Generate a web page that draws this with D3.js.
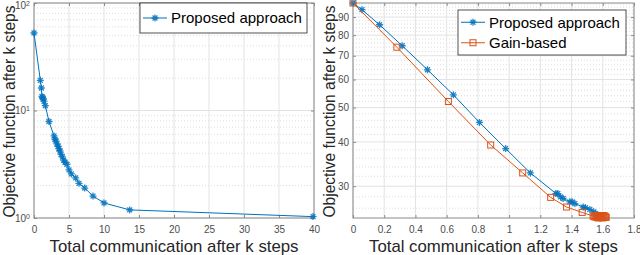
<!DOCTYPE html>
<html>
<head>
<meta charset="utf-8">
<script src="https://cdn.jsdelivr.net/npm/d3@7"></script>
<style>
  body { margin: 0; background: #fff; }
  svg { display: block; font-family: "Liberation Sans", Arial, sans-serif; }
</style>
</head>
<body>
<div id="chart"></div>
<script>
// left panel: proposed approach only
const leftX = [0, 0.9, 1.05, 1.14, 1.24, 1.33, 1.43, 1.62, 2.14, 2.86, 3.0, 3.14, 3.29, 3.43, 3.57, 3.71, 3.86, 4.05, 4.24, 4.43, 4.71, 5.0, 5.33, 5.95, 6.43, 7.24, 8.43, 10.0, 13.67, 39.86];
const leftY = [52.6, 19.1, 16.2, 13.5, 13.2, 12.8, 12.2, 11.1, 7.9, 5.8, 5.4, 5.2, 4.9, 4.65, 4.4, 4.2, 3.9, 3.7, 3.45, 3.3, 3.15, 2.8, 2.57, 2.36, 2.1, 1.9, 1.6, 1.38, 1.19, 1.03];
const leftXTicks = [0, 5, 10, 15, 20, 25, 30, 35, 40];
const leftYTicks = [1, 10, 100];

// right panel: proposed vs gain-based
const propX = [0, 0.0575, 0.170, 0.315, 0.477, 0.643, 0.81, 0.978, 1.136, 1.30, 1.312, 1.329, 1.346, 1.389, 1.404, 1.421, 1.474, 1.489, 1.517, 1.542, 1.555, 1.570, 1.581, 1.592];
const propY = [98.6, 94.4, 85.6, 74.7, 63.9, 54.3, 45.4, 38.3, 32.7, 28.6, 28.6, 28.0, 27.7, 27.1, 27.1, 26.8, 26.2, 26.1, 25.8, 25.4, 25.1, 24.8, 24.7, 24.6];
const gainX = [0, 0.281, 0.611, 0.882, 1.087, 1.266, 1.368, 1.468, 1.538, 1.545, 1.552, 1.558, 1.566, 1.571, 1.577, 1.583, 1.588, 1.594, 1.599, 1.603, 1.608, 1.613, 1.618, 1.622];
const gainY = [98.6, 74.0, 52.0, 39.2, 32.7, 27.9, 26.2, 25.3, 24.7, 24.6, 24.8, 24.5, 24.7, 24.4, 24.6, 24.8, 24.5, 24.7, 24.4, 24.6, 24.8, 24.5, 24.6, 24.5];
const rightXTicks = [0, 0.2, 0.4, 0.6, 0.8, 1, 1.2, 1.4, 1.6, 1.8];
const rightYTicks = [30, 40, 50, 60, 70, 80, 90];

const W = 640, H = 255;
const BLUE = "#0072BD", ORANGE = "#D95319";
const AXIS = "#8a8a8a", TXT = "#4d4d4d";

const svg = d3.select("#chart").append("svg").attr("width", W).attr("height", H);

function panel(opts) {
  const g = svg.append("g");
  const x = d3.scaleLinear().domain(opts.xDomain).range([opts.x0, opts.x1]);
  const y = d3.scaleLog().domain(opts.yDomain).range([opts.y1, opts.y0]);

  // minor grid (dotted)
  g.selectAll(".minor").data(opts.yMinor).join("line")
    .attr("x1", opts.x0).attr("x2", opts.x1)
    .attr("y1", d => y(d)).attr("y2", d => y(d))
    .style("stroke", "#d4d4d4").style("stroke-width", 0.8).style("stroke-dasharray", "1,2");

  // major grid
  g.selectAll(".vgrid").data(opts.xTicks).join("line")
    .attr("x1", d => x(d)).attr("x2", d => x(d))
    .attr("y1", opts.y0).attr("y2", opts.y1)
    .style("stroke", "#e3e3e3").style("stroke-width", 1);
  g.selectAll(".hgrid").data(opts.yTicks).join("line")
    .attr("x1", opts.x0).attr("x2", opts.x1)
    .attr("y1", d => y(d)).attr("y2", d => y(d))
    .style("stroke", "#e3e3e3").style("stroke-width", 1);

  // axes, ticks inward on all four sides
  const bottom = g.append("g").attr("transform", `translate(0,${opts.y1})`)
    .call(d3.axisBottom(x).tickValues(opts.xTicks).tickSize(-3).tickPadding(8).tickFormat(d3.format("")));
  const top = g.append("g").attr("transform", `translate(0,${opts.y0})`)
    .call(d3.axisTop(x).tickValues(opts.xTicks).tickSize(-3).tickFormat(""));
  const left = g.append("g").attr("transform", `translate(${opts.x0},0)`)
    .call(d3.axisLeft(y).tickValues(opts.yTicks).tickSize(-3).tickPadding(4).tickFormat(opts.yFormat));
  const right = g.append("g").attr("transform", `translate(${opts.x1},0)`)
    .call(d3.axisRight(y).tickValues(opts.yTicks).tickSize(-3).tickFormat(""));
  [bottom, top, left, right].forEach(a => {
    a.select(".domain").remove();
    a.selectAll("line").style("stroke", AXIS);
    a.selectAll("text").style("fill", TXT).style("font-size", "10px")
      .style("font-family", "'Liberation Sans', Arial, sans-serif");
  });
  if (opts.sup) {
    left.selectAll("text").text("").each(function (d) {
      const t = d3.select(this);
      t.append("tspan").text("10");
      t.append("tspan").attr("dy", "-0.4em").style("font-size", "7px").text(Math.round(Math.log10(d)));
    });
    left.selectAll(".tick").filter(d => d === 100).select("text").attr("dy", "0.55em");
  }

  g.append("rect")
    .attr("x", opts.x0).attr("y", opts.y0)
    .attr("width", opts.x1 - opts.x0).attr("height", opts.y1 - opts.y0)
    .style("fill", "none").style("stroke", AXIS).style("stroke-width", 1);

  // axis titles
  g.append("text")
    .attr("x", (opts.x0 + opts.x1) / 2).attr("y", 252)
    .attr("text-anchor", "middle")
    .attr("textLength", 249).attr("lengthAdjust", "spacingAndGlyphs")
    .style("font-size", "17px").style("fill", "#262626")
    .text("Total communication after k steps");
  g.append("text")
    .attr("transform", `translate(${opts.titleX},${(opts.y0 + opts.y1) / 2 + 1}) rotate(-90)`)
    .attr("text-anchor", "middle")
    .attr("textLength", 212).attr("lengthAdjust", "spacingAndGlyphs")
    .style("font-size", "16px").style("fill", "#262626")
    .text("Objective function after k steps");

  return { g, x, y };
}

function drawSeries(p, xs, ys, color, marker) {
  const pts = xs.map((d, i) => [d, ys[i]]);
  const line = d3.line().x(d => p.x(d[0])).y(d => p.y(d[1]));
  p.g.append("path").datum(pts).attr("d", line)
    .style("fill", "none").style("stroke", color).style("stroke-width", 1);
  const m = p.g.append("g");
  pts.forEach(d => {
    const cx = p.x(d[0]), cy = p.y(d[1]);
    if (marker === "star") drawStar(m, cx, cy, color);
    else drawSquare(m, cx, cy, color);
  });
}

function drawStar(g, cx, cy, color) {
  const r = 3.5, q = r * 0.7;
  g.append("path")
    .attr("d", `M${cx - r},${cy}L${cx + r},${cy}M${cx},${cy - r}L${cx},${cy + r}` +
      `M${cx - q},${cy - q}L${cx + q},${cy + q}M${cx - q},${cy + q}L${cx + q},${cy - q}`)
    .style("stroke", color).style("stroke-width", 1.3).style("stroke-opacity", 0.85).style("fill", "none");
}

function drawSquare(g, cx, cy, color) {
  const s = 6;
  g.append("rect").attr("x", cx - s / 2).attr("y", cy - s / 2)
    .attr("width", s).attr("height", s)
    .style("fill", "none").style("stroke", color).style("stroke-width", 1);
}

function legend(g, x0, y0, w, pad, rowH, items) {
  g.append("rect").attr("x", x0).attr("y", y0)
    .attr("width", w).attr("height", items.length * rowH + pad * 2)
    .style("fill", "#fff").style("stroke", "#262626").style("stroke-width", 0.8);
  items.forEach((it, i) => {
    const cy = y0 + pad + rowH * (i + 0.5);
    g.append("line").attr("x1", x0 + 3).attr("x2", x0 + 27).attr("y1", cy).attr("y2", cy)
      .style("stroke", it.color).style("stroke-width", 1);
    if (it.marker === "star") drawStar(g, x0 + 15, cy, it.color);
    else drawSquare(g, x0 + 15, cy, it.color);
    g.append("text").attr("x", x0 + 31).attr("y", cy).attr("dy", "0.35em")
      .style("font-size", "15px").style("fill", "#000").text(it.label);
  });
}

// left
const leftMinor = [];
[1, 10].forEach(dec => { for (let k = 2; k <= 9; k++) leftMinor.push(dec * k); });
const pl = panel({
  x0: 34, x1: 314, y0: 3, y1: 218,
  xDomain: [0, 40], yDomain: [1, 100],
  xTicks: leftXTicks, yTicks: leftYTicks, yMinor: leftMinor,
  yFormat: d => d, sup: true, titleX: 15
});
drawSeries(pl, leftX, leftY, BLUE, "star");
legend(svg.append("g"), 140, 3, 167, 4, 22, [{ label: "Proposed approach", color: BLUE, marker: "star" }]);

// right
const rightMinor = [];
for (let v = 26; v <= 98; v += 2) if (v % 10 !== 0) rightMinor.push(v);
const pr = panel({
  x0: 353, x1: 634, y0: 3, y1: 218,
  xDomain: [0, 1.8], yDomain: [24.4, 98.6],
  xTicks: rightXTicks, yTicks: rightYTicks, yMinor: rightMinor,
  yFormat: d3.format("d"), sup: false, titleX: 335
});
drawSeries(pr, propX, propY, BLUE, "star");
drawSeries(pr, gainX, gainY, ORANGE, "square");
legend(svg.append("g"), 458, 10, 168, 2, 20.5, [
  { label: "Proposed approach", color: BLUE, marker: "star" },
  { label: "Gain-based", color: ORANGE, marker: "square" }
]);
</script>
</body>
</html>
